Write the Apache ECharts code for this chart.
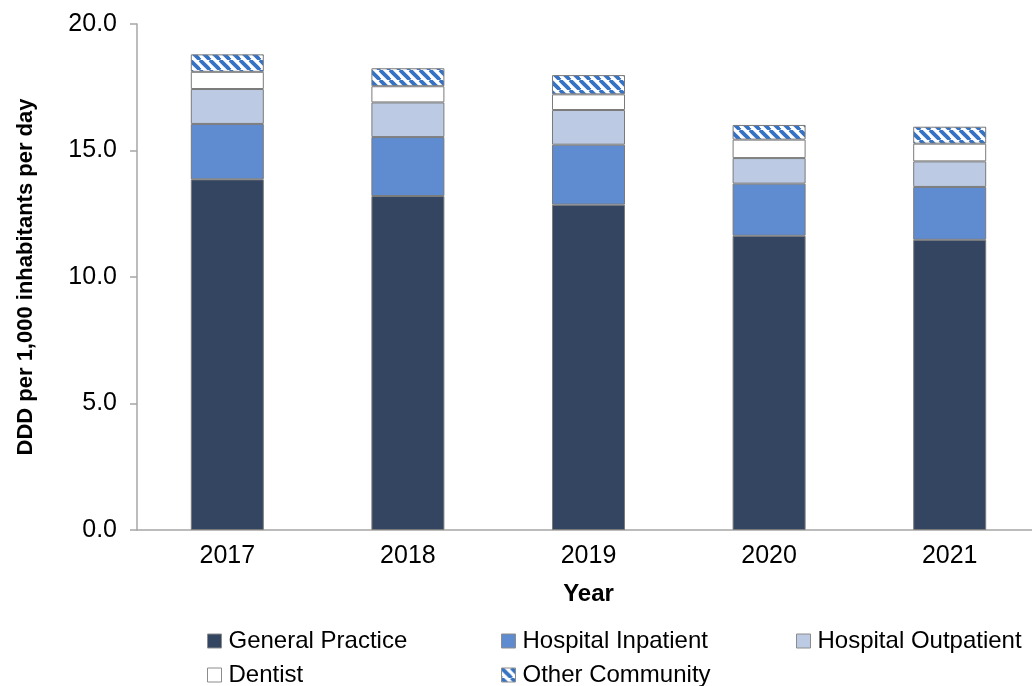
<!DOCTYPE html>
<html>
<head>
<meta charset="utf-8">
<script src="https://cdn.jsdelivr.net/npm/echarts@6/dist/echarts.min.js"></script>
<style>
  html, body { margin: 0; padding: 0; background: #fff; overflow: hidden; }
  #chart { width: 1040px; height: 686px; }
</style>
</head>
<body>
<div id="chart"></div>
<script>
var years = ['2017', '2018', '2019', '2020', '2021'];
var yTicks = [0, 5, 10, 15, 20];
// values
var generalPractice = [13.86, 13.20, 12.86, 11.63, 11.47];
var hospitalInpatient = [2.19, 2.33, 2.37, 2.06, 2.09];
var hospitalOutpatient = [1.38, 1.37, 1.37, 1.01, 1.01];
var dentist = [0.68, 0.64, 0.62, 0.73, 0.70];
var otherCommunity = [0.69, 0.71, 0.76, 0.58, 0.67];
var seriesNames = ['General Practice', 'Hospital Inpatient', 'Hospital Outpatient', 'Dentist', 'Other Community'];

var chart = echarts.init(document.getElementById('chart'));

// hatched fill for "Other Community"
function makeHatch() {
    var c = document.createElement('canvas');
    c.width = 10; c.height = 10;
    var ctx = c.getContext('2d');
    ctx.fillStyle = '#ffffff';
    ctx.fillRect(0, 0, 10, 10);
    ctx.strokeStyle = '#3572c4';
    ctx.lineWidth = 3.8;
    for (var k = -10; k <= 10; k += 10) {
        ctx.beginPath();
        ctx.moveTo(k, 0);
        ctx.lineTo(k + 10, 10);
        ctx.stroke();
    }
    return c;
}

var fills = ['#334560', '#5f8bd0', '#bccbe3', '#ffffff', { image: makeHatch(), repeat: 'repeat' }];
var datas = [generalPractice, hospitalInpatient, hospitalOutpatient, dentist, otherCommunity];
var font = '"Liberation Sans", Arial, sans-serif';

var legendLeft = [207, 501, 796];
var legends = seriesNames.map(function (n, i) {
    return {
        data: [n],
        left: legendLeft[i % 3],
        top: i < 3 ? 629 : 663,
        padding: 0,
        itemWidth: 14,
        itemHeight: 14,
        itemGap: 6,
        selectedMode: false,
        icon: 'rect',
        itemStyle: { borderColor: '#8c8c8c', borderWidth: 1 },
        textStyle: { fontFamily: font, fontSize: 24, color: '#000', padding: [0, 0, 0, 2] }
    };
});

var option = {
    animation: false,
    legend: legends,
    grid: { left: 137, top: 24, right: 0, bottom: 156, containLabel: false },
    xAxis: {
        type: 'category',
        data: years,
        name: 'Year',
        nameLocation: 'middle',
        nameGap: 52,
        nameTextStyle: { fontFamily: font, fontSize: 24, fontWeight: 'bold', color: '#000' },
        axisLine: { lineStyle: { color: '#a6a6a6', width: 1.5 } },
        axisTick: { show: false },
        axisLabel: { fontFamily: font, fontSize: 25, color: '#000', margin: 14 },
        splitLine: { show: false }
    },
    yAxis: {
        type: 'value',
        min: yTicks[0],
        max: yTicks[yTicks.length - 1],
        interval: 5,
        name: 'DDD per 1,000 inhabitants per day',
        nameLocation: 'middle',
        nameRotate: 90,
        nameGap: 100,
        nameTextStyle: { fontFamily: font, fontSize: 22, fontWeight: 'bold', color: '#000' },
        axisLine: { show: true, lineStyle: { color: '#a6a6a6', width: 1.5 } },
        axisTick: { show: true, length: 7, lineStyle: { color: '#a6a6a6', width: 1.5 } },
        axisLabel: {
            fontFamily: font, fontSize: 25, color: '#000', margin: 20,
            formatter: function (v) { return v.toFixed(1); }
        },
        splitLine: { show: false }
    },
    series: seriesNames.map(function (n, i) {
        return {
            name: n,
            type: 'bar',
            stack: 'total',
            barWidth: 73,
            itemStyle: { color: fills[i], borderColor: '#7a7a7a', borderWidth: 1 },
            data: datas[i]
        };
    })
};
chart.setOption(option);
</script>
</body>
</html>
